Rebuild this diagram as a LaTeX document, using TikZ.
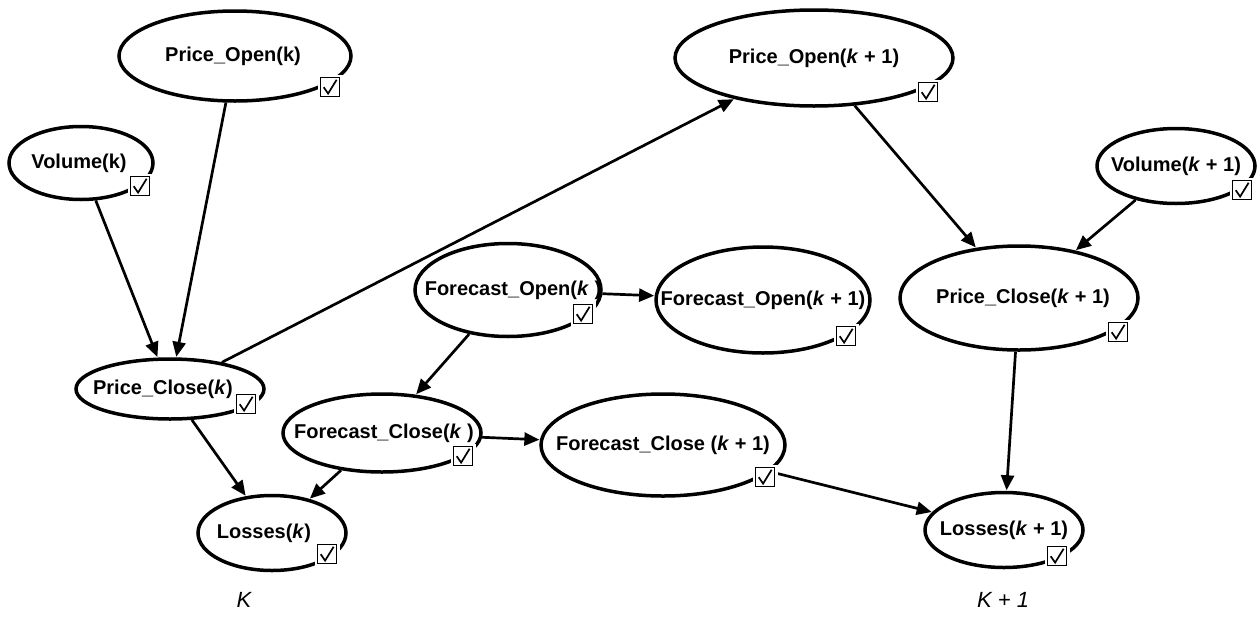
\documentclass[tikz,border=0pt]{standalone}
\usepackage{fontspec}
\setmainfont{Liberation Sans}
\usetikzlibrary{shapes.geometric,arrows.meta}
\begin{document}
\begin{tikzpicture}[x=1pt,y=-1pt,
 ell/.style={ellipse, draw, line width=3.5pt, inner sep=0pt},
 lbl/.style={font=\fontsize{20}{24}\selectfont\bfseries, inner sep=0pt},
 chk/.style={draw, line width=1pt, fill=white, minimum size=19pt, inner sep=0pt,
   preaction={draw=white, line width=6pt},
   path picture={
     \draw[line width=1.7pt, line join=miter, line cap=butt]
       ([shift={(-6.3pt,-0.2pt)}]path picture bounding box.center)
       -- ([shift={(-1.9pt,-6.6pt)}]path picture bounding box.center)
       -- ([shift={(6.6pt,7.2pt)}]path picture bounding box.center);
   }},
 arr/.style={line width=2.7pt, -{Triangle[length=15pt,width=13pt]}, shorten >=0.5pt},
 slicelbl/.style={font=\fontsize{22}{24}\selectfont\itshape}
]
\useasboundingbox (0,0) rectangle (1260,624);

% ellipses
\node[ell, minimum width=232pt, minimum height=90pt] (po) at (235,56) {};
\node[ell, minimum width=144pt, minimum height=73pt] (vo) at (81,163) {};
\node[ell, minimum width=188pt, minimum height=60pt] (pc) at (170,389) {};
\node[ell, minimum width=148pt, minimum height=75pt] (lo) at (272,533) {};
\node[ell, minimum width=186pt, minimum height=93pt] (fo) at (508,290) {};
\node[ell, minimum width=214pt, minimum height=106pt] (fo1) at (763,300) {};
\node[ell, minimum width=198pt, minimum height=78pt] (fc) at (382,433) {};
\node[ell, minimum width=244pt, minimum height=102pt] (fc1) at (663,445) {};
\node[ell, minimum width=278pt, minimum height=96pt] (po1) at (814,58) {};
\node[ell, minimum width=158pt, minimum height=75pt] (vo1) at (1176,166) {};
\node[ell, minimum width=238pt, minimum height=104pt] (pc1) at (1019,298) {};
\node[ell, minimum width=158pt, minimum height=75pt] (lo1) at (1004,530) {};

% labels
\node[lbl] (pot) at ([xshift=-2pt]po.center) {Price\_Open(k)};
\node[lbl] (vot) at ([xshift=-2pt]vo.center) {Volume(k)};
\node[lbl] (pct) at ([xshift=-7pt]pc.center) {Price\_Close(\textit{k})};
\node[lbl] (lot) at ([xshift=-8pt]lo.center) {Losses(\textit{k})};
\node[lbl] (fot) at ([xshift=5pt]fo.center) {Forecast\_Open(\textit{k} )};
\node[lbl] (fo1t) at (fo1.center) {Forecast\_Open(\textit{k} + 1)};
\node[lbl] (fct) at ([xshift=2pt]fc.center) {Forecast\_Close(\textit{k} )};
\node[lbl] (fc1t) at (fc1.center) {Forecast\_Close (\textit{k} + 1)};
\node[lbl] (po1t) at (po1.center) {Price\_Open(\textit{k} + 1)};
\node[lbl] (vo1t) at (vo1.center) {Volume(\textit{k} + 1)};
\node[lbl] (pc1t) at ([xshift=4pt]pc1.center) {Price\_Close(\textit{k} + 1)};
\node[lbl] (lo1t) at (lo1.center) {Losses(\textit{k} + 1)};

% arrows
\draw[arr] (po) -- (pc);
\draw[arr] (vo) -- (pc);
\draw[arr] (pc) -- (po1);
\draw[arr] (pc) -- (lo);
\draw[arr] (fc) -- (lo);
\draw[arr] (fo) -- (fc);
\draw[arr] (fo) -- (fo1);
\draw[arr] (fc) -- (fc1);
\draw[arr] (fc1) -- (lo1);
\draw[arr] (po1) -- (pc1);
\draw[arr] (vo1) -- (pc1);
\draw[arr] (pc1) -- (lo1);

% check boxes
\node[chk] (poc) at (330,87) {};
\node[chk] (voc) at (140,186) {};
\node[chk] (pcc) at (246,404) {};
\node[chk] (loc) at (327,554) {};
\node[chk] (foc) at (583,314) {};
\node[chk] (fo1c) at (846,336) {};
\node[chk] (fcc) at (463,456) {};
\node[chk] (fc1c) at (765,477) {};
\node[chk] (po1c) at (928,92) {};
\node[chk] (vo1c) at (1242,190) {};
\node[chk] (pc1c) at (1118,332) {};
\node[chk] (lo1c) at (1057,556) {};

% time-slice labels
\node[slicelbl] (k0) at (244,600) {K};
\node[slicelbl] (k1) at (1003,600) {K + 1};
\end{tikzpicture}
\end{document}
